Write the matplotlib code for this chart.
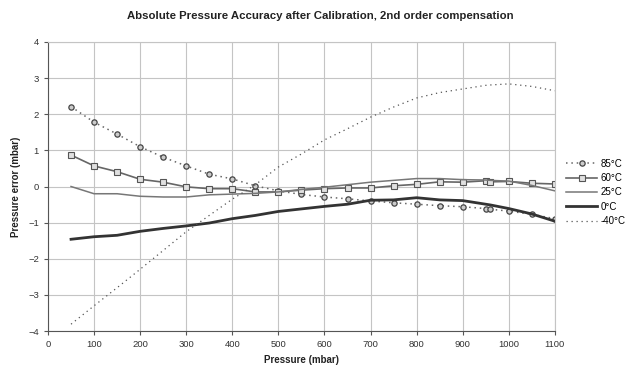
import matplotlib.pyplot as plt

plt.rcParams['font.family'] = ['Liberation Sans', 'DejaVu Sans']

pressure = [50, 100, 150, 200, 250, 300, 350, 400, 450, 500, 550,
            600, 650, 700, 750, 800, 850, 900, 950, 960, 1000, 1050, 1100]

err_85 = [2.21, 1.78, 1.45, 1.10, 0.81, 0.57, 0.34, 0.21, 0.02, -0.12, -0.22,
          -0.29, -0.34, -0.40, -0.45, -0.49, -0.53, -0.56, -0.61, -0.63, -0.68, -0.77, -0.89]
err_60 = [0.87, 0.57, 0.41, 0.20, 0.12, -0.01, -0.06, -0.06, -0.15, -0.15, -0.10,
          -0.06, -0.04, -0.04, 0.02, 0.06, 0.13, 0.12, 0.16, 0.13, 0.14, 0.09, 0.07]
err_25 = [0.0, -0.20, -0.20, -0.27, -0.29, -0.29, -0.23, -0.21, -0.19, -0.15, -0.08,
          -0.02, 0.05, 0.12, 0.17, 0.22, 0.22, 0.19, 0.18, 0.17, 0.15, 0.03, -0.12]
err_0 = [-1.46, -1.39, -1.35, -1.24, -1.16, -1.09, -1.01, -0.89, -0.80, -0.69, -0.62,
         -0.55, -0.49, -0.38, -0.37, -0.31, -0.37, -0.39, -0.49, -0.51, -0.61, -0.76, -0.96]
err_m40 = [-3.81, -3.30, -2.80, -2.29, -1.77, -1.25, -0.80, -0.35, 0.05, 0.54, 0.90,
           1.29, 1.60, 1.92, 2.20, 2.45, 2.60, 2.70, 2.80, 2.81, 2.84, 2.77, 2.65]

fig = plt.figure(figsize=(6.4, 3.65), dpi=100)
ax = fig.add_axes([0.075, 0.093, 0.792, 0.792])

ax.plot(pressure, err_85, color='#666666', linestyle=(0, (1, 2.5)), linewidth=1.1,
        marker='o', markersize=3.8, markerfacecolor='#cccccc', markeredgecolor='#444444',
        markeredgewidth=0.9, label='85°C')
ax.plot(pressure, err_60, color='#666666', linewidth=1.2,
        marker='s', markersize=4.5, markerfacecolor='#e0e0e0', markeredgecolor='#555555',
        markeredgewidth=0.8, label='60°C')
ax.plot(pressure, err_25, color='#777777', linewidth=1.1, label='25°C')
ax.plot(pressure, err_0, color='#333333', linewidth=2.0, label='0°C')
ax.plot(pressure, err_m40, color='#555555', linestyle=(0, (1, 3)), linewidth=0.9,
        label='-40°C')

ax.set_xlim(0, 1100)
ax.set_ylim(-4, 4)
ax.set_xticks(range(0, 1101, 100))
ax.set_yticks(range(-4, 5))
ax.grid(True, color='#c4c4c4', linewidth=0.8)
ax.set_axisbelow(True)
for s in ['top', 'right']:
    ax.spines[s].set_color('#c4c4c4')
for s in ['left', 'bottom']:
    ax.spines[s].set_color('#555555')
ax.tick_params(labelsize=6.8, length=3, color='#555555', labelcolor='#333333')

ax.set_xlabel('Pressure (mbar)', fontsize=7, fontweight='bold', color='#222222', labelpad=4)
ax.set_ylabel('Pressure error (mbar)', fontsize=7, fontweight='bold', color='#222222', labelpad=5)
fig.suptitle('Absolute Pressure Accuracy after Calibration, 2nd order compensation',
             fontsize=8.2, fontweight='bold', color='#222222', y=0.97)

ax.legend(loc='center left', bbox_to_anchor=(1.005, 0.48), frameon=False, fontsize=7,
          handlelength=3.2, labelspacing=0.45, handletextpad=0.3)

fig.savefig('out.png', dpi=100)
